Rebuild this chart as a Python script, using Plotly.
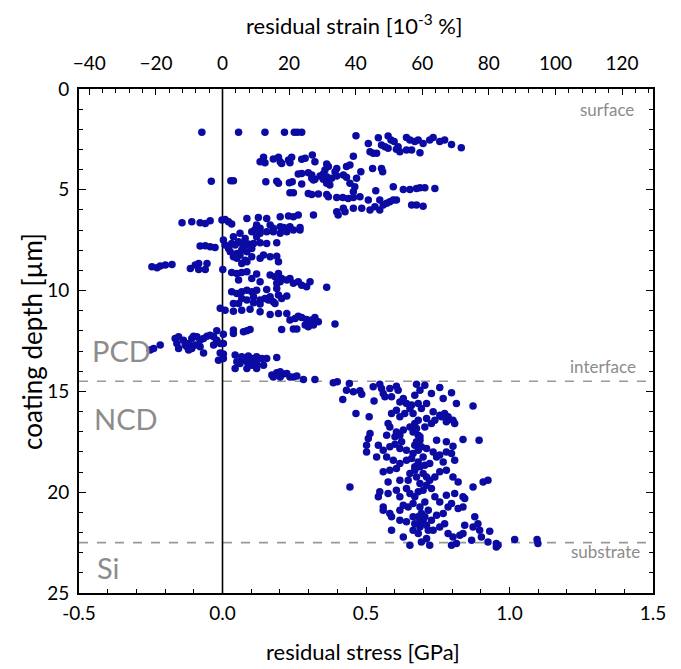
import plotly.graph_objects as go

# (residual stress [GPa], coating depth [um]), by zone
pcd_upper = [
    (-0.072,2.15),(0.056,2.15),(0.148,2.15),(0.216,2.15),(0.250,2.15),(0.261,2.15),(0.276,2.15),(0.465,2.32),
    (0.508,2.70),(0.543,2.42),(0.577,2.33),(0.587,2.53),(0.554,2.78),(0.566,2.86),(0.598,2.61),(0.612,2.86),
    (0.641,2.40),(0.653,2.53),(0.670,2.61),(0.682,2.53),(0.699,2.70),(0.722,2.53),(0.734,2.40),(0.757,2.61),
    (0.774,2.53),(0.798,2.75),(0.832,2.91),(0.641,3.03),(0.659,3.03),(0.688,3.16),(0.618,3.11),(0.606,2.99),
    (0.514,3.11),(0.525,3.19),(0.537,3.19),(0.456,3.33),(0.577,2.94),
    (0.143,3.39),(0.131,3.61),(0.148,3.66),(0.177,3.47),(0.195,3.39),(0.201,3.61),(0.206,3.69),(0.230,3.52),
    (0.235,3.66),(0.241,3.39),(0.276,3.49),(0.288,3.44),(0.313,3.28),(0.322,3.61),
    (0.363,3.72),(0.369,3.85),(0.357,4.02),(0.398,3.94),(0.392,4.10),(0.432,3.85),(0.444,3.77),(0.482,4.10),
    (0.523,3.94),(0.554,3.94),(0.558,4.10),(0.264,4.22),(0.276,4.19),(0.299,4.15),(0.311,4.27),(0.322,4.48),
    (0.340,4.32),(0.351,4.22),(0.363,4.35),(0.380,4.43),(0.398,4.32),(0.421,4.27),(0.432,4.38),(0.467,4.43),
    (0.351,4.48),(0.311,4.43),
    (-0.039,4.57),(0.029,4.55),(0.038,4.55),(0.151,4.60),(0.189,4.57),(0.195,4.68),(0.233,4.65),(0.243,4.60),
    (0.276,4.71),(0.317,4.52),(0.363,4.68),(0.374,4.76),(0.444,4.68),(0.461,4.85),(0.456,5.10),(0.534,5.05),
    (0.595,4.85),(0.630,4.98),(0.653,4.98),(0.676,4.93),(0.688,4.90),(0.705,4.90),(0.740,4.93),(0.235,5.15),
    (0.247,5.15),(0.299,5.18),(0.311,5.23),(0.334,5.21),(0.363,5.23),(0.369,5.34),(0.398,5.38),(0.419,5.38),
    (0.438,5.43),(0.456,5.38),(0.479,5.34),(0.508,5.51),(0.548,5.51),(0.572,5.67),(0.583,5.59),(0.595,5.51),
    (0.606,5.51),(0.659,5.76),(0.676,5.76),(0.699,5.81),
    (0.398,6.09),(0.403,6.25),(0.421,5.92),(0.427,6.09),(0.456,5.92),(0.485,5.92),(0.514,6.00),(0.531,5.84),
    (0.548,6.00),(0.560,5.76),(0.317,6.25),
    (-0.141,6.63),(-0.107,6.58),(-0.078,6.63),(-0.060,6.67),(-0.043,6.53),(-0.002,6.50),(0.009,6.47),(0.021,6.58),
    (0.032,6.70),(0.085,6.42),(0.125,6.37),(0.154,6.42),(0.201,6.34),(0.230,6.30),(0.247,6.34),(0.264,6.25),
    (0.270,6.87),(0.119,6.75),(0.166,6.75),(0.177,6.91),(0.201,6.83),(0.212,6.87),(0.224,6.91),(0.235,6.83),
    (0.114,6.96),(0.131,6.91),
]

pcd_lower = [
    (0.038,7.33),(0.061,7.16),(0.102,7.08),(0.119,7.00),(0.131,7.16),(0.154,7.08),(0.177,7.08),(0.201,7.16),
    (0.224,7.08),(0.247,7.00),(0.270,7.00),(0.119,7.33),(0.079,7.41),
    (-0.078,7.79),(-0.060,7.77),(-0.043,7.82),(-0.026,7.86),(0.003,7.49),(0.009,7.74),(0.021,7.91),(0.032,7.66),
    (0.044,7.74),(0.056,7.58),(0.067,7.66),(0.079,7.74),(0.090,7.69),(0.108,7.66),(0.131,7.63),(0.154,7.66),
    (0.189,7.63),(0.027,8.07),(0.050,8.16),(0.067,7.99),(0.085,8.07),(0.102,7.91),
    (0.038,8.32),(0.050,8.40),(0.061,8.24),(0.079,8.49),(0.102,8.32),(0.131,8.40),(0.143,8.24),(0.166,8.32),
    (0.189,8.29),(0.195,8.57),(0.067,8.65),(0.085,8.57),
    (-0.246,8.82),(-0.228,8.87),(-0.217,8.78),(-0.199,8.73),(-0.176,8.70),(-0.112,8.90),(-0.095,8.73),
    (-0.083,8.65),(-0.060,8.95),(-0.054,8.65),(0.001,8.95),(-0.083,8.95),
    (0.032,9.10),(0.050,9.15),(0.067,9.10),(0.085,9.07),(0.056,9.48),(0.102,9.40),(0.119,9.18),(0.166,9.23),
    (0.183,9.31),(0.195,9.15),(0.206,9.40),(0.201,9.56),(0.235,9.40),(0.247,9.64),(0.264,9.56),(0.276,9.73),
    (0.305,9.56),(0.293,9.81),(0.363,9.84),(0.131,9.56),(0.189,9.64),(0.224,9.48),
    (0.032,10.06),(0.050,10.14),(0.067,10.06),(0.085,9.98),(0.102,10.06),(0.119,9.98),(0.154,9.94),(0.189,9.89),
    (0.195,10.22),(0.067,10.39),(0.085,10.47),(0.108,10.31),(0.131,10.47),(0.148,10.39),(0.166,10.31),
    (0.177,10.55),(0.206,10.39),(0.224,10.27),(0.038,10.64),(0.056,10.64),(0.108,10.60),(0.131,10.67),
    (0.160,10.47),(0.183,10.64),
    (-0.008,10.88),(0.009,10.97),(0.038,11.02),(0.067,10.97),(0.096,10.93),(0.131,11.05),(0.166,11.18),
    (0.195,11.13),(0.224,11.13),(0.235,11.46),(0.253,11.38),(0.264,11.27),(0.276,11.33),(0.293,11.43),
    (0.311,11.46),(0.322,11.33),(0.334,11.55),(0.299,11.79),(0.317,11.71),(0.247,11.91),(0.259,11.91),
    (0.206,11.93),(0.392,11.66),(0.299,11.60),(0.288,11.71),
    (-0.020,11.99),(0.003,12.16),(0.038,12.13),(0.073,12.04),(0.085,11.99),(0.096,11.93),(0.038,11.96),
    (-0.252,12.95),(-0.240,12.87),(-0.217,12.70),(-0.165,12.37),(-0.153,12.29),(-0.136,12.46),(-0.130,12.70),
    (-0.118,12.62),(-0.107,12.37),(-0.101,12.26),(-0.089,12.29),(-0.078,12.46),(-0.066,12.37),(-0.054,12.26),
    (-0.043,12.21),(-0.031,12.29),(-0.020,12.46),(-0.159,12.62),(-0.153,12.87),(-0.124,12.79),(-0.107,12.87),
    (-0.095,12.70),(-0.078,12.79),(-0.066,13.09),(-0.031,12.70),(-0.008,12.62),(0.003,12.62),(-0.118,12.95),
    (-0.008,13.09),(0.003,13.15),(-0.014,13.45),(0.003,13.37),
    (0.044,13.20),(0.067,13.28),(0.079,13.45),(0.090,13.25),(0.102,13.37),(0.119,13.28),(0.137,13.37),
    (0.154,13.37),(0.189,13.32),(0.050,13.53),(0.061,13.61),(0.085,13.53),(0.102,13.70),(0.119,13.61),
    (0.143,13.70),(0.044,13.86),(0.085,13.86),(0.119,13.86),
    (0.172,14.19),(0.189,14.08),(0.201,14.03),(0.212,14.14),(0.224,14.11),(0.235,14.28),(0.259,14.24),
    (0.177,14.28),(0.201,14.28),(0.247,14.28),
]

ncd_zone = [
    (0.282,14.41),(0.322,14.41),(0.386,14.57),(0.400,14.52),(0.442,14.61),(0.432,14.94),(0.456,15.02),
    (0.479,14.97),(0.485,15.14),(0.419,15.40),(0.465,16.10),(0.511,16.26),(0.525,14.77),(0.548,14.64),
    (0.554,14.86),(0.560,15.10),(0.566,15.27),(0.528,15.47),(0.583,14.86),(0.606,14.74),(0.612,14.94),
    (0.589,15.27),(0.618,15.52),(0.630,15.35),(0.676,14.64),(0.705,14.69),(0.688,14.94),(0.670,15.19),
    (0.641,15.60),(0.659,15.68),(0.653,15.85),(0.606,15.93),(0.589,16.10),(0.618,16.26),(0.635,16.10),
    (0.682,15.60),(0.693,15.85),(0.711,15.60),(0.728,15.10),(0.757,14.81),(0.798,15.07),(0.769,15.35),
    (0.815,15.60),(0.734,16.01),(0.757,16.18),(0.774,16.10),(0.786,16.26),(0.803,16.43),(0.809,16.59),
    (0.873,15.73),(0.711,16.34),(0.682,16.43),(0.670,16.59),(0.653,16.76),(0.630,16.92),(0.606,17.01),
    (0.583,16.76),(0.577,16.59),(0.572,17.17),(0.601,17.25),(0.618,17.17),(0.624,17.50),(0.664,17.01),
    (0.682,17.17),(0.688,17.42),(0.670,17.67),(0.705,16.76),(0.728,16.59),(0.740,16.43),(0.763,16.26),
    (0.780,16.51),(0.746,17.42),(0.780,17.50),(0.803,17.72),(0.838,17.39),(0.894,17.42),(0.514,17.09),
    (0.508,17.34),(0.502,17.67),(0.543,17.67),(0.560,17.92),(0.583,17.75),(0.601,17.62),(0.618,17.83),
    (0.641,17.92),(0.664,18.08),(0.682,17.92),(0.699,18.25),(0.711,17.83),(0.734,18.00),(0.746,18.25),
    (0.757,18.16),(0.780,18.00),(0.798,18.08),(0.809,18.41),(0.769,18.50),(0.502,18.00),(0.537,18.25),
    (0.572,18.25),(0.595,18.41),(0.618,18.58),(0.641,18.41),(0.670,18.74),(0.688,18.74),(0.653,19.07),
    (0.676,19.24),(0.699,19.07),(0.711,19.24),(0.722,19.41),(0.740,19.24),(0.757,18.99),(0.780,18.91),
    (0.803,19.24),(0.821,19.49),(0.560,18.99),(0.583,18.91),(0.606,18.83),(0.577,19.49),(0.618,19.41),
    (0.647,19.41),(0.444,19.74),(0.548,19.98),(0.543,20.23),(0.577,20.07),(0.560,20.73),(0.606,19.90),
    (0.618,20.23),(0.641,19.82),(0.653,20.07),(0.670,20.23),(0.682,19.98),(0.699,19.90),(0.711,19.65),
    (0.728,19.82),(0.740,20.23),(0.757,20.48),(0.780,20.15),(0.809,20.07),(0.838,20.23),(0.873,19.74),
    (0.908,19.49),(0.925,19.41),(0.560,20.89),(0.583,21.06),(0.589,21.22),(0.618,20.89),(0.630,20.65),
    (0.647,20.73),(0.618,21.39),(0.641,21.47),(0.664,21.22),(0.670,21.56),(0.688,21.72),(0.699,21.39),
    (0.711,21.64),(0.693,21.06),(0.717,20.89),(0.728,21.39),(0.746,21.14),(0.769,21.06),(0.786,20.73),
    (0.798,20.56),(0.821,20.81),(0.838,20.73),(0.844,20.31),(0.589,21.89),(0.630,22.22),(0.653,22.63),
    (0.682,22.05),(0.693,22.47),(0.711,22.30),(0.722,22.63),(0.734,21.89),(0.757,21.72),(0.774,21.56),
    (0.786,22.05),(0.803,22.22),(0.815,22.55),(0.798,22.63),(0.827,22.13),(0.838,22.05),(0.844,21.64),
    (0.873,21.72),(0.879,21.22),(0.890,21.56),(0.896,21.89),(0.902,22.22),(0.931,21.94),(0.925,22.47),
    (0.954,22.55),(0.954,22.72),(0.868,22.38),(1.018,22.35),(1.096,22.35),(1.099,22.55),(0.960,22.63),
    (0.664,16.10),(0.676,16.84),(0.688,17.25),(0.676,17.50),(0.693,17.75),(0.659,18.33),(0.682,18.50),
    (0.670,18.91),(0.705,18.66),(0.722,18.58),(0.688,19.57),(0.705,20.48),(0.688,20.73),(0.664,20.56),
    (0.682,21.22),(0.705,21.22),(0.688,21.47),(0.717,21.89),(0.664,21.89),
]

# axis settings (values)
stress_ticks = [-0.5, 0.0, 0.5, 1.0, 1.5]
stress_labels = ["-0.5", "0.0", "0.5", "1.0", "1.5"]
strain_ticks = [-40, -20, 0, 20, 40, 60, 80, 100, 120]
depth_ticks = [0, 5, 10, 15, 20, 25]
strain_per_gpa = 86.2
boundaries = {"interface": 14.5, "substrate": 22.5}

points = pcd_upper + pcd_lower + ncd_zone
stress = [p[0] for p in points]
depth = [p[1] for p in points]

FONT = "Lato, 'Open Sans', sans-serif"
GRAY = "#8c8c8c"

fig = go.Figure()
fig.add_trace(go.Scatter(
    x=stress, y=depth, mode="markers",
    marker=dict(color="#0b0ba3", size=7.5, line=dict(width=0)),
    showlegend=False, hoverinfo="x+y"))
# same data expressed as strain, hidden, so the top strain axis is drawn
fig.add_trace(go.Scatter(x=[s * strain_per_gpa for s in stress], y=depth, xaxis="x2", yaxis="y",
                         mode="markers", marker=dict(opacity=0), showlegend=False, hoverinfo="skip"))

for name, d in boundaries.items():
    fig.add_shape(type="line", xref="paper", x0=0, x1=1, yref="y", y0=d, y1=d,
                  line=dict(color="#999999", width=1.6, dash="dash"), layer="below")
fig.add_shape(type="line", xref="x", x0=0, x1=0, yref="paper", y0=0, y1=1,
              line=dict(color="black", width=1.6), layer="below")

xr = [-0.5, 1.5]
fig.update_layout(
    width=681, height=669,
    margin=dict(l=71, r=36, t=81, b=84, autoexpand=False),
    paper_bgcolor="white", plot_bgcolor="white",
    font=dict(family=FONT, size=19, color="black"),
    xaxis=dict(range=xr, tickvals=stress_ticks, ticktext=stress_labels,
               ticks="inside", ticklen=6, tickwidth=1.2, tickcolor="black",
               minor=dict(dtick=0.1, ticks="inside", ticklen=4, tickcolor="black"),
               showline=True, linecolor="black", linewidth=1.6,
               showgrid=False, zeroline=False, automargin=False,
               tickfont=dict(size=19), ticklabelstandoff=2),
    xaxis2=dict(range=[xr[0] * strain_per_gpa, xr[1] * strain_per_gpa],
                overlaying="x", side="top", anchor="y",
                tickvals=strain_ticks, ticks="inside", ticklen=6, tickwidth=1.2, tickcolor="black",
                minor=dict(dtick=4, ticks="inside", ticklen=4, tickcolor="black"),
                showline=True, linecolor="black", linewidth=1.6,
                showgrid=False, zeroline=False, automargin=False,
                tickfont=dict(size=19), ticklabelstandoff=10),
    yaxis=dict(range=[25, 0], tickvals=depth_ticks,
               ticks="inside", ticklen=7, tickwidth=1.2, tickcolor="black",
               minor=dict(dtick=1, ticks="inside", ticklen=4, tickcolor="black"),
               showline=True, linecolor="black", linewidth=1.6, mirror="ticks",
               showgrid=False, zeroline=False, automargin=False,
               tickfont=dict(size=19), ticklabelstandoff=4),
)

titles = [
    ("residual stress [GPa]", 0.494, -0.116, 0, 22),
    ("residual strain [10<sup>-3</sup> %]", 0.48, 1.127, 0, 22),
    ("coating depth [µm]", -0.082, 0.5, -90, 26),
]
for text, x, y, ang, sz in titles:
    fig.add_annotation(text=text, xref="paper", yref="paper", x=x, y=y,
                       xanchor="center", yanchor="middle", textangle=ang, showarrow=False,
                       font=dict(family=FONT, size=sz, color="black"))

ann = [
    ("surface", 0.971, 1.0),
    ("interface", 0.973, 13.75),
    ("substrate", 0.980, 22.95),
]
for t, x, y in ann:
    fig.add_annotation(text=t, xref="paper", x=x, xanchor="right",
                       yref="y", y=y, yanchor="middle", showarrow=False,
                       font=dict(family=FONT, size=17, color=GRAY))
zones = [("PCD", 0.019, 12.95), ("NCD", 0.023, 16.35), ("Si", 0.028, 23.75)]
for t, x, y in zones:
    fig.add_annotation(text=t, xref="paper", x=x, xanchor="left", yref="y", y=y,
                       yanchor="middle", showarrow=False,
                       font=dict(family=FONT, size=29, color=GRAY))

fig.write_html("out.html")
